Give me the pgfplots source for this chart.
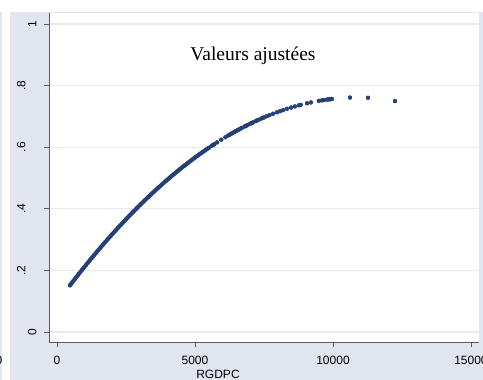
\documentclass[border=0pt]{standalone}
\usepackage{pgfplots}
\pgfplotsset{compat=1.18}
\usepackage{fontspec}
\setmainfont{Liberation Sans}
\newfontfamily\seriffont{Liberation Serif}
\definecolor{bgc}{RGB}{224,229,240}
\definecolor{gridc}{RGB}{228,234,245}
\definecolor{navy}{RGB}{36,64,118}
\definecolor{axc}{RGB}{90,90,90}
\begin{document}
\begin{tikzpicture}[x=1pt,y=1pt]
\useasboundingbox (0,0) rectangle (483,380);
\clip (0,0) rectangle (483,380);
\fill[white] (0,0) rectangle (483,380);
\fill[bgc] (10,0) rectangle (483,368);
\fill[bgc] (0,0) rectangle (2,368);
\node[font=\fontsize{12}{14}\selectfont, anchor=base] at (-1,15) {0};
\begin{axis}[
  at={(49pt,38pt)}, anchor=south west,
  scale only axis, width=430pt, height=329pt,
  xmin=-290, xmax=15290, ymin=-0.0325, ymax=1.0357,
  axis x line*=bottom, axis y line*=left,
  axis line style={-, draw=axc, line width=0.8pt},
  axis background/.style={fill=white},
  scaled x ticks=false, scaled y ticks=false,
  xtick={0,5000,10000,15000},
  xticklabels={0,5000,10000,15000},
  ytick={0,0.2,0.4,0.6,0.8,1},
  yticklabels={\raisebox{4pt}{0},\raisebox{15pt}{.2},\raisebox{15pt}{.4},\raisebox{15pt}{.6},\raisebox{15pt}{.8},\raisebox{4pt}{1}},
  tick align=outside, major tick length=5pt,
  tick style={draw=axc, line width=0.8pt},
  ymajorgrids, grid style={draw=gridc, line width=1.2pt},
  ticklabel style={font=\fontsize{12}{14}\selectfont},
  xticklabel style={yshift=-6pt},
  yticklabel style={rotate=90, anchor=south},
  clip=false,
]
\addplot[only marks, mark=*, mark size=2pt, mark options={draw=navy, fill=navy}, color=navy] coordinates {
(470,0.1515)(500,0.1550)(550,0.1608)(600,0.1666)(650,0.1724)(700,0.1781)(750,0.1838)(800,0.1895)(850,0.1952)(900,0.2008)(950,0.2064)
(1000,0.2119)(1050,0.2175)(1100,0.2230)(1150,0.2285)(1200,0.2339)(1250,0.2393)(1300,0.2447)(1350,0.2501)(1400,0.2555)(1450,0.2608)
(1500,0.2661)(1550,0.2713)(1600,0.2765)(1650,0.2817)(1700,0.2869)(1750,0.2921)(1800,0.2972)(1850,0.3023)(1900,0.3073)(1950,0.3124)
(2000,0.3174)(2050,0.3224)(2100,0.3273)(2150,0.3322)(2200,0.3371)(2250,0.3420)(2300,0.3468)(2350,0.3516)(2400,0.3564)(2450,0.3612)
(2500,0.3659)(2550,0.3706)(2600,0.3752)(2650,0.3799)(2700,0.3845)(2750,0.3891)(2800,0.3936)(2850,0.3982)(2900,0.4027)(2950,0.4072)
(3000,0.4116)(3050,0.4160)(3100,0.4204)(3150,0.4248)(3200,0.4291)(3250,0.4334)(3300,0.4377)(3350,0.4419)(3400,0.4461)(3450,0.4503)
(3500,0.4545)(3550,0.4586)(3600,0.4627)(3650,0.4668)(3700,0.4709)(3750,0.4749)(3800,0.4789)(3850,0.4829)(3900,0.4868)(3950,0.4907)
(4000,0.4946)(4050,0.4985)(4100,0.5023)(4150,0.5061)(4200,0.5098)(4250,0.5136)(4300,0.5173)(4350,0.5210)(4400,0.5246)(4450,0.5283)
(4500,0.5319)(4550,0.5355)(4600,0.5390)(4650,0.5425)(4700,0.5460)(4750,0.5495)(4800,0.5529)(4850,0.5563)(4900,0.5597)(4950,0.5631)
(5000,0.5664)(5050,0.5697)(5100,0.5729)(5150,0.5762)(5200,0.5794)(5250,0.5826)(5300,0.5857)(5350,0.5888)(5400,0.5919)(5450,0.5950)
(5500,0.5980)(5600,0.6040)(5650,0.6070)(5700,0.6099)(5800,0.6157)(5950,0.6242)(6100,0.6324)(6200,0.6377)(6250,0.6403)
(6300,0.6429)(6350,0.6455)(6400,0.6480)(6450,0.6505)(6500,0.6530)(6550,0.6555)(6600,0.6579)(6650,0.6603)(6700,0.6626)(6800,0.6673)
(6850,0.6696)(6900,0.6718)(7000,0.6763)(7050,0.6785)(7100,0.6806)(7200,0.6848)(7250,0.6869)(7300,0.6889)(7400,0.6929)(7450,0.6948)
(7500,0.6967)(7600,0.7005)(7700,0.7041)(7830,0.7087)(7970,0.7134)(8080,0.7169)(8190,0.7204)(8330,0.7245)(8480,0.7287)(8620,0.7324)
(8770,0.7361)(8830,0.7375)(9060,0.7426)(9200,0.7453)(9490,0.7504)(9600,0.7521)(9670,0.7531)(9780,0.7545)(9850,0.7553)(9890,0.7558)
(9920,0.7562)(9960,0.7566)
(10616,0.7611)(11268,0.7604)(12246,0.7497)
};
\node[font=\seriffont\fontsize{19.5}{22}\selectfont, anchor=base, inner sep=0pt] at (axis cs:7100,0.881) {Valeurs ajustées};
\end{axis}
\node[font=\fontsize{12}{14}\selectfont, anchor=base] at (218,1) {RGDPC};
\end{tikzpicture}
\end{document}
